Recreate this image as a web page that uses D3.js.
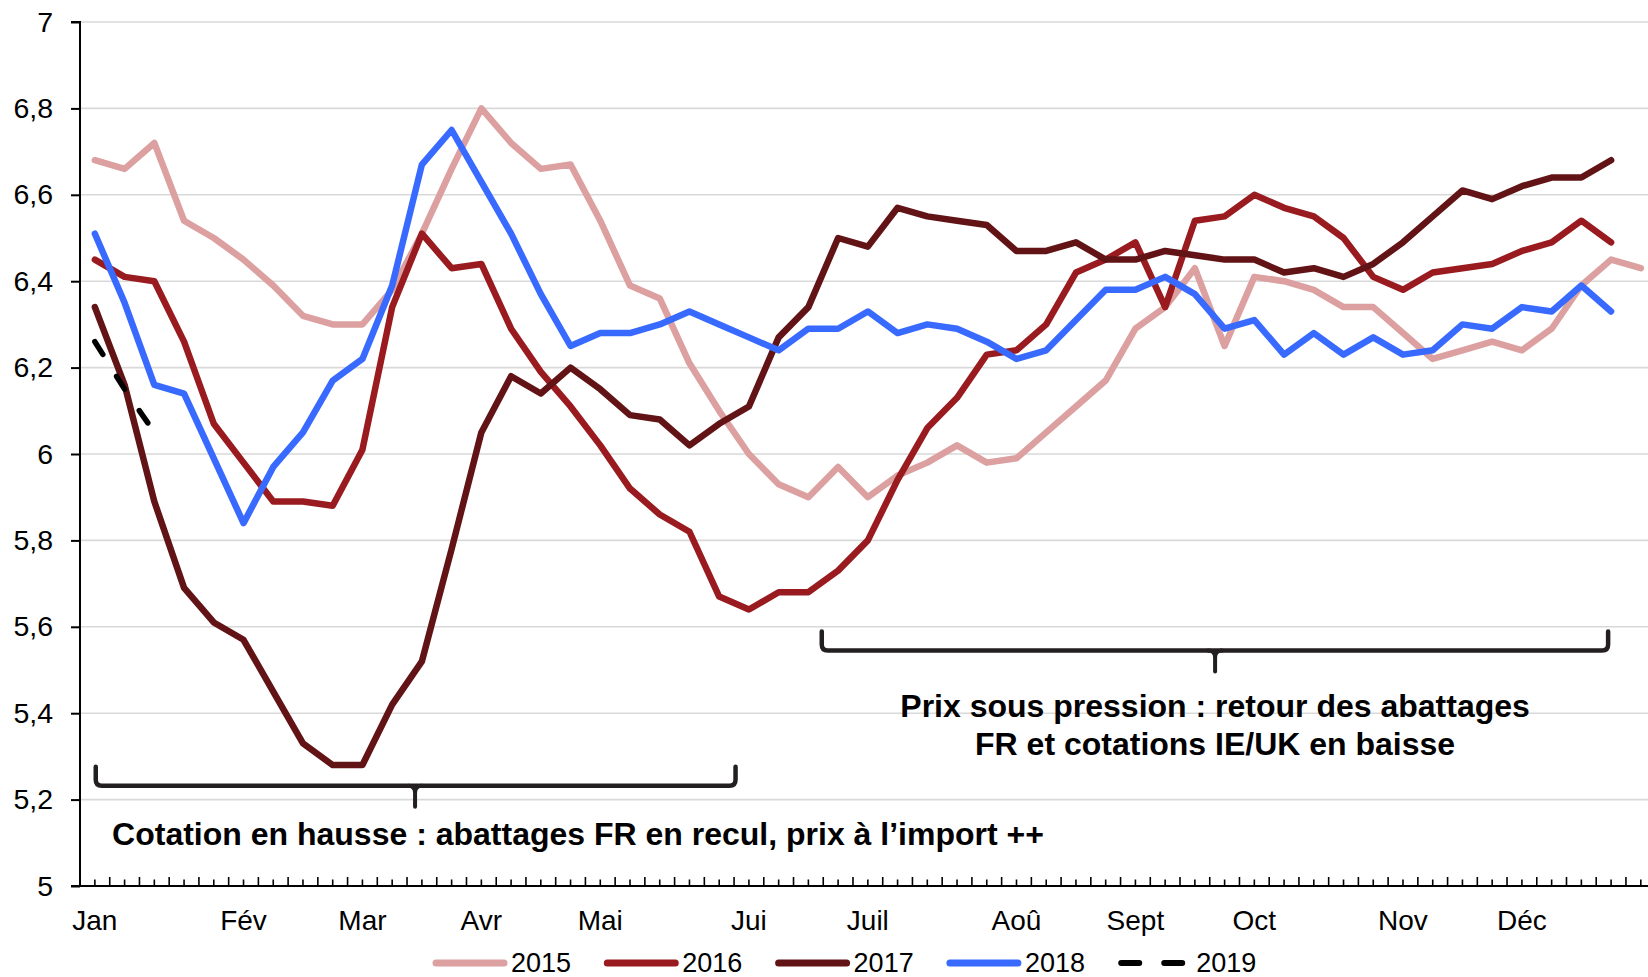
<!DOCTYPE html>
<html lang="fr">
<head>
    <meta charset="UTF-8">
    <script src="https://cdn.jsdelivr.net/npm/d3@7/dist/d3.min.js"></script>
    <title>Cotations hebdomadaires</title>
    <style>
        body { margin: 0; background: #fff; }
        svg { display: block; font-family: "Liberation Sans", Arial, sans-serif; }
    </style>
</head>
<body>
<div id="chart"></div>
<script>
    // weeks 1..53, categories of the x axis
    const weeks = d3.range(1, 54);

    // month labels shown under given weeks
    const monthWeeks = [1, 6, 10, 14, 18, 23, 27, 32, 36, 40, 45, 49];
    const monthNames = ['Jan', 'Fév', 'Mar', 'Avr', 'Mai', 'Jui', 'Juil', 'Aoû', 'Sept', 'Oct', 'Nov', 'Déc'];

    const yTicks = [5, 5.2, 5.4, 5.6, 5.8, 6, 6.2, 6.4, 6.6, 6.8, 7];

    const v2015 = [6.68, 6.66, 6.72, 6.54, 6.50, 6.45, 6.39, 6.32, 6.30, 6.30,
                   6.38, 6.51, 6.66, 6.80, 6.72, 6.66, 6.67, 6.54, 6.39, 6.36,
                   6.21, 6.10, 6.00, 5.93, 5.90, 5.97, 5.90, 5.95, 5.98, 6.02,
                   5.98, 5.99, 6.05, 6.11, 6.17, 6.29, 6.34, 6.43, 6.25, 6.41,
                   6.40, 6.38, 6.34, 6.34, 6.28, 6.22, 6.24, 6.26, 6.24, 6.29,
                   6.39, 6.45, 6.43];
    const v2016 = [6.45, 6.41, 6.40, 6.26, 6.07, 5.98, 5.89, 5.89, 5.88, 6.01,
                   6.34, 6.51, 6.43, 6.44, 6.29, 6.19, 6.11, 6.02, 5.92, 5.86,
                   5.82, 5.67, 5.64, 5.68, 5.68, 5.73, 5.80, 5.94, 6.06, 6.13,
                   6.23, 6.24, 6.30, 6.42, 6.45, 6.49, 6.34, 6.54, 6.55, 6.60,
                   6.57, 6.55, 6.50, 6.41, 6.38, 6.42, 6.43, 6.44, 6.47, 6.49,
                   6.54, 6.49];
    const v2017 = [6.34, 6.16, 5.89, 5.69, 5.61, 5.57, 5.45, 5.33, 5.28, 5.28,
                   5.42, 5.52, 5.78, 6.05, 6.18, 6.14, 6.20, 6.15, 6.09, 6.08,
                   6.02, 6.07, 6.11, 6.27, 6.34, 6.50, 6.48, 6.57, 6.55, 6.54,
                   6.53, 6.47, 6.47, 6.49, 6.45, 6.45, 6.47, 6.46, 6.45, 6.45,
                   6.42, 6.43, 6.41, 6.44, 6.49, 6.55, 6.61, 6.59, 6.62, 6.64,
                   6.64, 6.68];
    const v2018 = [6.51, 6.35, 6.16, 6.14, 5.99, 5.84, 5.97, 6.05, 6.17, 6.22,
                   6.39, 6.67, 6.75, 6.63, 6.51, 6.37, 6.25, 6.28, 6.28, 6.30,
                   6.33, 6.30, 6.27, 6.24, 6.29, 6.29, 6.33, 6.28, 6.30, 6.29,
                   6.26, 6.22, 6.24, 6.31, 6.38, 6.38, 6.41, 6.37, 6.29, 6.31,
                   6.23, 6.28, 6.23, 6.27, 6.23, 6.24, 6.30, 6.29, 6.34, 6.33,
                   6.39, 6.33];
    const v2019 = [6.26, 6.15, 6.05];

    const seriesNames = ['2015', '2016', '2017', '2018', '2019'];
    const seriesValues = [v2015, v2016, v2017, v2018, v2019];
    const colors = ['#dca0a0', '#991b1f', '#621315', '#386aff', '#000000'];

    const w = 1648;
    const h = 977;
    const padL = 80;
    const padT = 22;
    const baseY = 886;
    const bw = 29.73;

    const xScale = d3.scaleBand()
        .domain(weeks)
        .range([padL, padL + bw * weeks.length])
        .paddingInner(0).paddingOuter(0);
    const xc = (wk) => xScale(wk) + xScale.bandwidth() / 2;
    // fractional week position, for the annotation braces
    const xAt = (i) => xc(weeks[0]) + i * xScale.bandwidth();

    const yScale = d3.scaleLinear()
        .domain([5, 7])
        .range([baseY, padT]);

    const fr = d3.formatLocale({decimal: ',', thousands: ' ', grouping: [3], currency: ['', ' €']});
    const fmt = fr.format('.1~f');

    const svg = d3.select('#chart').append('svg')
        .attr('width', w)
        .attr('height', h);

    // grid
    svg.append('g')
        .selectAll('line')
        .data(yTicks.filter(d => d > 5))
        .enter().append('line')
        .attr('x1', padL)
        .attr('x2', w)
        .attr('y1', d => yScale(d))
        .attr('y2', d => yScale(d))
        .attr('stroke', '#d9d9d9')
        .attr('stroke-width', 1.6);

    // y axis
    const yAxis = d3.axisLeft(yScale)
        .tickValues(yTicks)
        .tickFormat(fmt)
        .tickSize(9)
        .tickPadding(18);
    const gy = svg.append('g')
        .attr('transform', 'translate(' + padL + ',0)')
        .call(yAxis);
    gy.select('.domain').attr('stroke', '#000').attr('stroke-width', 2).attr('d', 'M-9,' + padT + 'H0V' + baseY + 'H-9');
    gy.selectAll('.tick line').attr('stroke', '#000').attr('stroke-width', 2);
    gy.selectAll('.tick text')
        .style('font-size', '28.5px')
        .style('font-family', '"Liberation Sans", Arial, sans-serif')
        .attr('fill', '#000');

    // x axis: baseline and tick marks at band edges (long) and centres (short)
    const gx = svg.append('g');
    gx.append('line')
        .attr('x1', padL - 9).attr('x2', w)
        .attr('y1', baseY).attr('y2', baseY)
        .attr('stroke', '#000').attr('stroke-width', 2);
    gx.selectAll('line.major')
        .data(weeks)
        .enter().append('line')
        .attr('class', 'major')
        .attr('x1', d => xScale(d)).attr('x2', d => xScale(d))
        .attr('y1', baseY).attr('y2', baseY - 9)
        .attr('stroke', '#000').attr('stroke-width', 1.6);
    gx.selectAll('line.minor')
        .data(weeks)
        .enter().append('line')
        .attr('class', 'minor')
        .attr('x1', d => xc(d)).attr('x2', d => xc(d))
        .attr('y1', baseY).attr('y2', baseY - 6.5)
        .attr('stroke', '#000').attr('stroke-width', 1.6);
    gx.selectAll('text')
        .data(monthWeeks)
        .enter().append('text')
        .attr('x', d => xc(d))
        .attr('y', 930)
        .attr('text-anchor', 'middle')
        .style('font-size', '28px')
        .text((d, i) => monthNames[i]);

    // lines
    const line = d3.line()
        .x((d, i) => xc(weeks[i]))
        .y(d => yScale(d));

    seriesValues.forEach((vals, k) => {
        const p = svg.append('path')
            .datum(vals)
            .attr('d', line)
            .attr('fill', 'none')
            .attr('stroke', colors[k])
            .attr('stroke-width', seriesNames[k] === '2019' ? 5.5 : 6.5)
            .attr('stroke-linejoin', 'round')
            .attr('stroke-linecap', 'round');
        if (seriesNames[k] === '2019') p.attr('stroke-dasharray', '15,26');
    });

    // braces
    function brace(from, to, mid, level, up, down) {
        const x0 = xAt(from), x1 = xAt(to), xm = xAt(mid);
        const y = yScale(level);
        const r = 6;
        svg.append('path')
            .attr('d', 'M' + x0 + ',' + (y - up) + 'L' + x0 + ',' + (y - r) +
                'Q' + x0 + ',' + y + ' ' + (x0 + r) + ',' + y +
                'L' + (x1 - r) + ',' + y +
                'Q' + x1 + ',' + y + ' ' + x1 + ',' + (y - r) +
                'L' + x1 + ',' + (y - up))
            .attr('fill', 'none')
            .attr('stroke', '#231f20')
            .attr('stroke-width', 4.5)
            .attr('stroke-linecap', 'round');
        svg.append('path')
            .attr('d', 'M' + (xm - 7) + ',' + y + 'Q' + xm + ',' + y + ' ' + xm + ',' + (y + 7) +
                'L' + xm + ',' + (y + down) +
                'M' + (xm + 7) + ',' + y + 'Q' + xm + ',' + y + ' ' + xm + ',' + (y + 7))
            .attr('fill', 'none')
            .attr('stroke', '#231f20')
            .attr('stroke-width', 4)
            .attr('stroke-linecap', 'round');
    }
    brace(0.03, 21.55, 10.77, 5.232, 19, 21);
    brace(24.45, 50.9, 37.68, 5.545, 19, 21);

    // annotation texts
    svg.append('text')
        .attr('x', xAt(0.58))
        .attr('y', yScale(5.232) + 59)
        .style('font-size', '32px')
        .style('font-weight', 'bold')
        .text('Cotation en hausse : abattages FR en recul, prix à l’import ++');

    const note = svg.append('text')
        .attr('x', xAt(37.68))
        .attr('text-anchor', 'middle')
        .style('font-size', '32px')
        .style('font-weight', 'bold');
    note.append('tspan')
        .attr('x', xAt(37.68))
        .attr('y', yScale(5.545) + 66)
        .text('Prix sous pression : retour des abattages');
    note.append('tspan')
        .attr('x', xAt(37.68))
        .attr('y', yScale(5.545) + 104)
        .text('FR et cotations IE/UK en baisse');

    // legend
    const legend = svg.append('g')
        .attr('transform', 'translate(433, 963)');
    const item = legend.selectAll('g')
        .data(seriesNames)
        .enter().append('g')
        .attr('transform', (d, i) => 'translate(' + (i * 171.3) + ',0)');
    item.append('line')
        .attr('x1', 3).attr('x2', 71)
        .attr('y1', 0).attr('y2', 0)
        .attr('stroke', (d, i) => colors[i])
        .attr('stroke-width', (d) => d === '2019' ? 6 : 7)
        .attr('stroke-linecap', 'round')
        .attr('stroke-dasharray', (d) => d === '2019' ? '18,25' : null);
    item.append('text')
        .attr('x', 78)
        .attr('y', 8.5)
        .style('font-size', '27px')
        .text(d => d);
</script>
</body>
</html>
